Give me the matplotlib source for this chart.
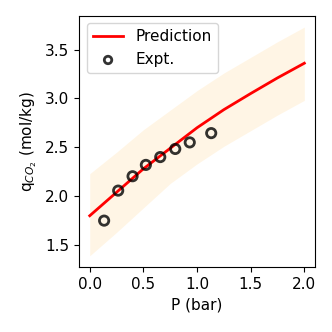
"""
plot.py

CO2 uptake: model prediction with uncertainty band vs. experiment.
"""
import matplotlib
matplotlib.use("Agg")
import matplotlib.pyplot as plt

# prediction curve and its band
p_pred = [0.0, 0.25, 0.5, 0.75, 1.0, 1.25, 1.5, 1.75, 2.0]
q_pred = [1.80, 2.04, 2.28, 2.49, 2.70, 2.885, 3.05, 3.21, 3.36]
q_upper = [2.23, 2.45, 2.68, 2.88, 3.08, 3.26, 3.42, 3.58, 3.73]
q_lower = [1.39, 1.63, 1.88, 2.13, 2.33, 2.51, 2.67, 2.83, 2.98]

# experimental points
p_expt = [0.134, 0.265, 0.399, 0.523, 0.657, 0.797, 0.932, 1.132]
q_expt = [1.75, 2.057, 2.204, 2.32, 2.40, 2.483, 2.55, 2.645]

plt.rcParams["font.size"] = 11

fig = plt.figure(figsize=(3.32, 3.32), dpi=100)
ax = fig.add_axes([0.238, 0.195, 0.711, 0.758])

ax.fill_between(p_pred, q_lower, q_upper, color="orange", alpha=0.1, linewidth=0)
ax.plot(p_pred, q_pred, color="r", linewidth=2, label="Prediction")
ax.scatter(p_expt, q_expt, s=45, facecolors="none", edgecolors="k",
           linewidths=2, alpha=0.8, label="Expt.", zorder=3)

ax.set_xlabel("P (bar)")
ax.set_ylabel("q$_{CO_2}$ (mol/kg)")
ax.set_xticks([0.0, 0.5, 1.0, 1.5, 2.0])
ax.set_yticks([1.5, 2.0, 2.5, 3.0, 3.5])
ax.legend(loc="upper left", markerscale=0.8)

fig.savefig("out.png", dpi=100)
